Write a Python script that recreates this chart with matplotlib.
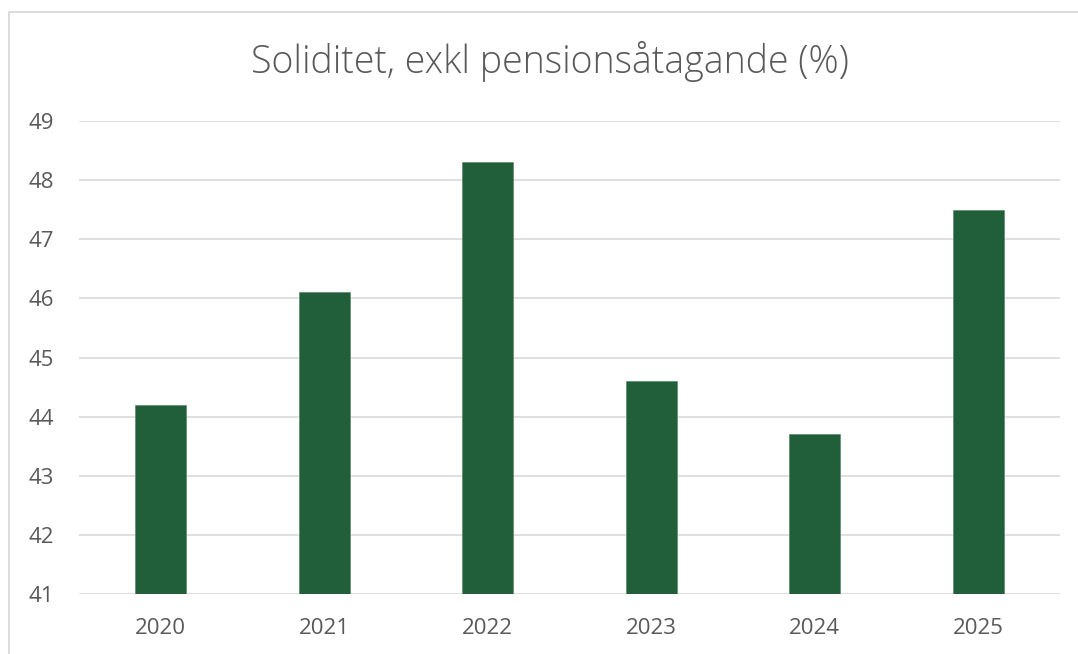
import matplotlib.pyplot as plt
from matplotlib.patches import Rectangle

years = ['2020', '2021', '2022', '2023', '2024', '2025']
soliditet = [44.2, 46.1, 48.3, 44.6, 43.7, 47.5]
y_ticks = [41, 42, 43, 44, 45, 46, 47, 48, 49]

plt.rcParams['font.family'] = ['Open Sans', 'DejaVu Sans']

W, H = 1078, 654
fig = plt.figure(figsize=(W / 100, H / 100), dpi=100)

# Light frame around the chart (right/bottom are cropped in the reference)
fig.patches.append(Rectangle((9 / W, -0.1), 1.2, 1 - 12 / H + 0.1,
                             transform=fig.transFigure, fill=False,
                             edgecolor='#D9D9D9', lw=1.3))

ax = fig.add_axes([79 / W, 1 - 594 / H, (1060 - 79) / W, (594 - 121) / H])

x = range(len(years))
ax.bar(x, [v - 41 for v in soliditet], bottom=41, width=0.31,
       color='#215E3A', edgecolor='#5E8A6E', linewidth=0.5, zorder=3)

ax.set_xlim(-0.5, len(years) - 0.5)
ax.set_ylim(41, 49)
ax.set_yticks(y_ticks)
ax.set_xticks(list(x))
ax.set_xticklabels(years)

ax.grid(axis='y', color='#D9D9D9', lw=1.2, zorder=0)
for s in ax.spines.values():
    s.set_visible(False)
ax.tick_params(length=0, labelsize=16, colors='#595959')
ax.tick_params(axis='y', pad=18)
ax.tick_params(axis='x', pad=17)

fig.text(550 / W, 1 - 62 / H, 'Soliditet, exkl pensionsåtagande (%)',
         ha='center', va='center', fontsize=27, color='#595959',
         fontweight='light')

fig.savefig('out.png', dpi=100)
